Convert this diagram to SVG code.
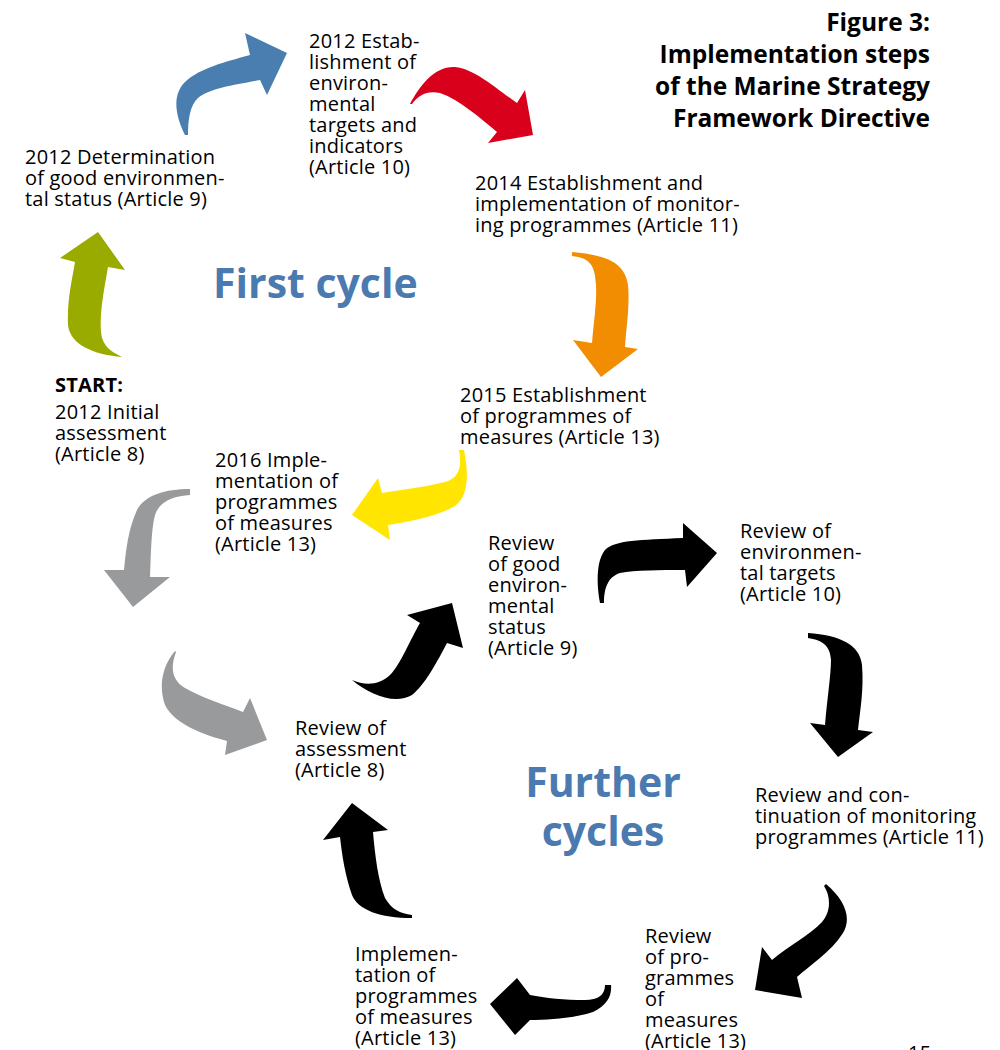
<svg xmlns="http://www.w3.org/2000/svg" width="1000" height="1050" viewBox="0 0 1000 1050">
<style>
.t{font-family:"Open Sans","Noto Sans","DejaVu Sans",sans-serif;font-size:20px;letter-spacing:0.2px;fill:#000}
.ti{font-family:"Open Sans","Noto Sans","DejaVu Sans",sans-serif;font-size:24.5px;font-weight:bold;fill:#000;text-anchor:end}
.big{font-family:"Open Sans","Noto Sans","DejaVu Sans",sans-serif;font-size:41px;font-weight:bold;fill:#4a7ab0}
.b{font-weight:bold}
</style>
<rect width="1000" height="1050" fill="#fff"/>
<g id="connectors">
<path id="a1" fill="#4a7eb0" d="M185,135 C175,115 172,95 185,82 C200,68 225,62 250,55 L245,33 L287,53 L267,95 L260,80 C235,85 210,88 198,98 C190,105 188,120 188,135 Z"/>
<path id="a2" fill="#d9001b" d="M410,104 C420,85 435,66 455,67 C475,69 495,88 517,103 L525,90 L533,135 L488,143 L497,132 C480,118 460,100 440,93 C428,90 418,95 412,104 Z"/>
<path id="a3" fill="#9aab00" d="M122,357 C95,355 70,345 68,325 C67,300 72,280 75,262 L60,258 L98,232 L125,270 L108,267 C104,290 98,320 102,338 C106,350 115,353 122,357 Z"/>
<path id="a4" fill="#f28c00" d="M572,252 C605,255 625,262 628,285 C630,305 626,330 625,347 L638,349 L601,377 L573,340 L592,343 C594,320 597,300 596,285 C595,265 590,258 572,256 Z"/>
<path id="a5" fill="#ffe500" d="M459,450 C462,465 460,478 445,482 C425,487 400,490 382,493 L378,478 L352,515 L390,540 L388,525 C410,522 440,515 455,506 C470,495 468,470 464,450 Z"/>
<path id="a6" fill="#999a9c" d="M190,489 C165,489 145,495 137,510 C128,530 126,550 124,570 L104,570 L133,607 L170,577 L150,577 C151,555 151,530 155,515 C160,500 175,496 190,495 Z"/>
<path id="a7" fill="#999a9c" d="M175,651 C163,665 158,685 165,705 C175,725 205,735 227,741 L225,755 L267,740 L250,698 L243,712 C225,705 200,697 185,688 C172,680 170,668 176,652 Z"/>
<path id="a8" fill="#000" d="M352,680 C370,695 395,705 412,695 C425,685 438,660 447,643 L463,648 L452,603 L407,615 L420,623 C410,640 400,665 390,675 C380,685 365,686 352,680 Z"/>
<path id="a9" fill="#000" d="M600,603 C596,580 597,560 605,550 C615,540 640,540 683,538 L683,523 L717,553 L687,587 L685,570 C660,570 635,570 620,573 C607,577 604,590 604,603 Z"/>
<path id="a10" fill="#000" d="M808,633 C840,635 860,645 862,665 C864,690 860,710 858,730 L873,732 L838,757 L810,723 L825,725 C827,700 831,675 831,660 C830,645 822,640 808,638 Z"/>
<path id="a11" fill="#000" d="M826,884 C845,900 852,918 843,933 C830,953 810,965 797,977 L802,998 L755,990 L762,947 L772,960 C790,945 810,935 822,922 C832,910 830,895 824,886 Z"/>
<path id="a12" fill="#000" d="M605,985 C605,995 598,1000 585,1000 C565,1000 545,998 530,995 L517,978 L490,1004 L515,1035 L530,1020 C550,1020 575,1018 593,1012 C608,1005 612,995 611,985 Z"/>
<path id="a13" fill="#000" d="M412,918 C380,918 358,910 352,895 C345,875 342,855 340,837 L323,840 L352,803 L388,830 L373,832 C375,855 378,880 385,898 C392,910 400,913 412,915 Z"/>
</g>
<g id="title">
<text class="ti" x="930" y="31">Figure 3:</text>
<text class="ti" x="930" y="63">Implementation steps</text>
<text class="ti" x="930" y="95">of the Marine Strategy</text>
<text class="ti" x="930" y="127">Framework Directive</text>
</g>
<g id="label-first"><text class="big" x="213" y="298">First cycle</text></g>
<g id="label-further">
<text class="big" x="603" y="797" text-anchor="middle">Further</text>
<text class="big" x="603" y="846" text-anchor="middle">cycles</text>
</g>
<g id="n-art9">
<text class="t" x="25" y="164">2012 Determination</text>
<text class="t" x="25" y="185">of good environmen-</text>
<text class="t" x="25" y="206">tal status (Article 9)</text>
</g>
<g id="n-art10">
<text class="t" x="309" y="48">2012 Estab-</text>
<text class="t" x="309" y="69">lishment of</text>
<text class="t" x="309" y="90">environ-</text>
<text class="t" x="309" y="111">mental</text>
<text class="t" x="309" y="132">targets and</text>
<text class="t" x="309" y="153">indicators</text>
<text class="t" x="309" y="174">(Article 10)</text>
</g>
<g id="n-art11">
<text class="t" x="475" y="190">2014 Establishment and</text>
<text class="t" x="475" y="211">implementation of monitor-</text>
<text class="t" x="475" y="232">ing programmes (Article 11)</text>
</g>
<g id="n-start">
<text class="t b" x="55" y="392">START:</text>
<text class="t" x="55" y="419">2012 Initial</text>
<text class="t" x="55" y="440">assessment</text>
<text class="t" x="55" y="461">(Article 8)</text>
</g>
<g id="n-art13a">
<text class="t" x="460" y="402">2015 Establishment</text>
<text class="t" x="460" y="423">of programmes of</text>
<text class="t" x="460" y="444">measures (Article 13)</text>
</g>
<g id="n-art13b">
<text class="t" x="215" y="467">2016 Imple-</text>
<text class="t" x="215" y="488">mentation of</text>
<text class="t" x="215" y="509">programmes</text>
<text class="t" x="215" y="530">of measures</text>
<text class="t" x="215" y="551">(Article 13)</text>
</g>
<g id="n-rev9">
<text class="t" x="488" y="550">Review</text>
<text class="t" x="488" y="571">of good</text>
<text class="t" x="488" y="592">environ-</text>
<text class="t" x="488" y="613">mental</text>
<text class="t" x="488" y="634">status</text>
<text class="t" x="488" y="655">(Article 9)</text>
</g>
<g id="n-rev10">
<text class="t" x="740" y="538">Review of</text>
<text class="t" x="740" y="559">environmen-</text>
<text class="t" x="740" y="580">tal targets</text>
<text class="t" x="740" y="601">(Article 10)</text>
</g>
<g id="n-rev8">
<text class="t" x="295" y="735">Review of</text>
<text class="t" x="295" y="756">assessment</text>
<text class="t" x="295" y="777">(Article 8)</text>
</g>
<g id="n-rev11">
<text class="t" x="755" y="802">Review and con-</text>
<text class="t" x="755" y="823">tinuation of monitoring</text>
<text class="t" x="755" y="844">programmes (Article 11)</text>
</g>
<g id="n-rev13">
<text class="t" x="645" y="943">Review</text>
<text class="t" x="645" y="964">of pro-</text>
<text class="t" x="645" y="985">grammes</text>
<text class="t" x="645" y="1006">of</text>
<text class="t" x="645" y="1027">measures</text>
<text class="t" x="645" y="1048">(Article 13)</text>
</g>
<g id="n-impl13">
<text class="t" x="355" y="961">Implemen-</text>
<text class="t" x="355" y="982">tation of</text>
<text class="t" x="355" y="1003">programmes</text>
<text class="t" x="355" y="1024">of measures</text>
<text class="t" x="355" y="1045">(Article 13)</text>
</g>
<text class="t" x="908" y="1060">15</text>
</svg>
